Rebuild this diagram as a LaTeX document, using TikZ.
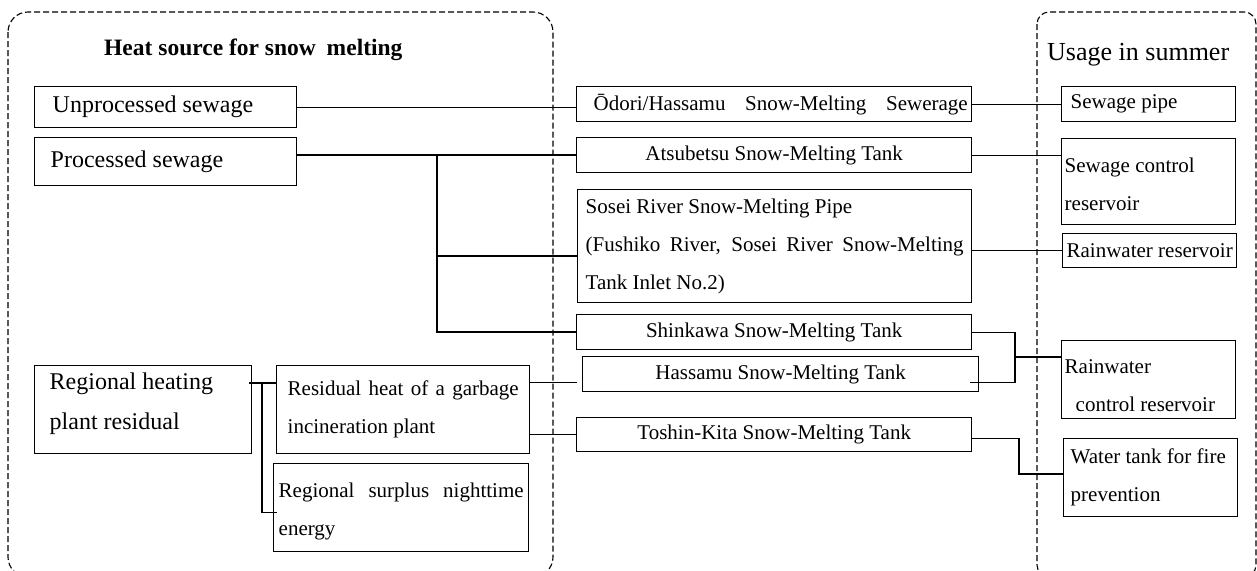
\documentclass[tikz,border=0pt]{standalone}
\usepackage{fontspec}
\setmainfont{Liberation Serif}
\usetikzlibrary{calc}
\newcommand\fsLarge{\fontsize{24}{40}\selectfont}
\newcommand\fsSmall{\fontsize{21}{38}\selectfont}
\begin{document}
\begin{tikzpicture}[x=1pt,y=-1pt,
  box/.style={draw, line width=1.4pt, inner sep=0pt, anchor=north west, font=\fsSmall},
  para/.style={align=justify},
  wire/.style={line width=1.1pt},
  trunk/.style={line width=1.5pt},
  group/.style={draw, line width=1.1pt, dash pattern=on 6pt off 3pt}
]
\useasboundingbox (0,0) rectangle (1257,570);

% dashed groups
\draw[group, rounded corners=20pt] (8,12) rectangle (553,577);
\draw[group, rounded corners=12pt] (1037,12) rectangle (1256,577);

\node[anchor=base west, inner sep=0pt, font=\bfseries\fontsize{23.5}{28}\selectfont] (title) at (104,55) {Heat source for snow\hspace{5pt} melting};
\node[anchor=base west, inner sep=0pt, font=\fontsize{26}{30}\selectfont] (usage) at (1047,60) {Usage in summer};

% heat sources
\node[box, para, font=\fsLarge, minimum width=262pt, minimum height=41pt, inner xsep=18pt, text width=226pt] (unproc) at (34,86) {Unprocessed sewage};
\node[box, para, font=\fsLarge, minimum width=262pt, minimum height=48pt, inner xsep=16pt, text width=230pt] (proc) at (34,137) {Processed sewage};
\node[box, para, font=\fsLarge, minimum width=217pt, minimum height=88pt, inner xsep=15pt, text width=187pt] (regheat) at (34,365) {Regional heating\\plant residual\rule[-18pt]{0pt}{18pt}};
\node[box, para, minimum width=253pt, minimum height=88pt, inner xsep=11pt, text width=231pt] (residual) at (276,365) {\makebox[231pt][s]{Residual heat of a garbage}\\incineration plant};
\node[box, para, minimum width=255pt, minimum height=88pt, inner xsep=5pt, text width=245pt] (surplus) at (273,463) {\rule{0pt}{23pt}\makebox[245pt][s]{Regional surplus nighttime}\\energy};

% snow-melting facilities
\node[box, minimum width=395pt, minimum height=35pt] (odori) at (576,86) {\hspace*{17pt}\makebox[374pt][s]{Ōdori/Hassamu Snow-Melting Sewerage}\hspace*{4pt}};
\node[box, minimum width=395pt, minimum height=35pt] (atsu) at (576,137) {Atsubetsu Snow-Melting Tank};
\node[box, para, minimum width=394pt, minimum height=113pt, inner xsep=8pt, text width=378pt] (sosei) at (577,189) {Sosei River Snow-Melting Pipe\\\makebox[378pt][s]{(Fushiko River, Sosei River Snow-Melting}\\Tank Inlet No.2)};
\node[box, minimum width=395pt, minimum height=35pt] (shinkawa) at (576,314) {Shinkawa Snow-Melting Tank};
\node[box, minimum width=396pt, minimum height=35pt] (hassamu) at (582,356) {Hassamu Snow-Melting Tank};
\node[box, minimum width=395pt, minimum height=34pt] (toshin) at (576,417) {Toshin-Kita Snow-Melting Tank};

% summer usage
\node[box, para, minimum width=174pt, minimum height=35pt, inner xsep=9pt, text width=156pt] (sewpipe) at (1061,86) {Sewage pipe};
\node[box, para, minimum width=174pt, minimum height=86pt, inner xsep=3pt, text width=168pt] (sewctrl) at (1061,138) {\rule{0pt}{20pt}Sewage control\\reservoir};
\node[box, minimum width=174pt, minimum height=34pt] (rainres) at (1062,233) {Rainwater reservoir};
\node[box, para, minimum width=174pt, minimum height=78pt, inner xsep=3pt, text width=168pt] (rainctrl) at (1061,340) {\rule{0pt}{26pt}Rainwater\\\hspace*{11pt}control reservoir};
\node[box, para, minimum width=174pt, minimum height=78pt, inner xsep=7pt, text width=160pt] (water) at (1063,438) {Water tank for fire\\prevention};

% helper points
\path (437,0) coordinate (px);
\path ([yshift=-10pt]sosei.west) coordinate (sosei-in);
\path (1015,357) coordinate (join);
\path ([xshift=-9pt,yshift=-8.5pt]hassamu.east) coordinate (hass-out);
\path ([yshift=-8.5pt]hassamu.west) coordinate (hass-in);
\path ([yshift=-4pt]toshin.east) coordinate (tosh-out);
\path (1019,474) coordinate (tknee);
\path (262,383) coordinate (rtrunk);
\path ([yshift=-5pt]surplus.west) coordinate (surp-in);

% connections
\draw[wire] (unproc.east) -- (unproc.east -| odori.west);
\draw[wire] (odori.east) -- (odori.east -| sewpipe.west);
\draw[trunk] (atsu.west -| proc.east) -- (atsu.west);
\draw[trunk] (atsu.west -| px) -- (shinkawa.west -| px) -- (shinkawa.west);
\draw[trunk] (sosei-in -| px) -- (sosei-in);
\draw[wire] (atsu.east) -- (atsu.east -| sewctrl.west);
\draw[wire] (rainres.west -| sosei.east) -- (rainres.west);
\draw[wire] (shinkawa.east) -| (join);
\draw[wire] (hass-out) -| (join);
\draw[trunk] (join) -- (join -| rainctrl.west);
\draw[wire] (tosh-out) -| (tknee) -- (tknee -| water.west);
\draw[wire] (hass-in -| residual.east) -- ([xshift=-5pt]hass-in);
\draw[wire] (toshin.west -| residual.east) -- (toshin.west);
\draw[trunk] ([xshift=-3pt]rtrunk -| regheat.east) -- (rtrunk -| residual.west);
\draw[trunk] (rtrunk) |- ([xshift=4pt]surp-in);
\end{tikzpicture}
\end{document}
